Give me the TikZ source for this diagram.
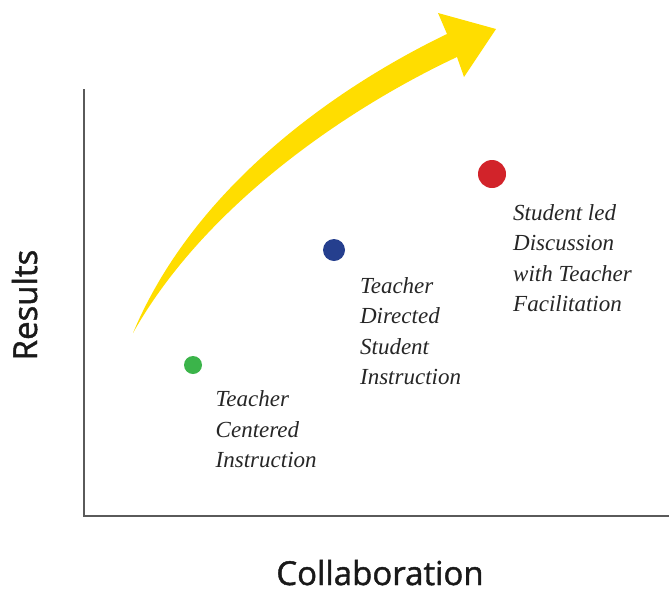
\documentclass[tikz,border=0pt]{standalone}
\usepackage{fontspec}
\setmainfont{Liberation Serif}
\newfontfamily\axisfont[FakeBold=1.3]{Open Sans}
\usepackage{xcolor}
\definecolor{axisgray}{RGB}{90,90,90}
\definecolor{arrowyellow}{RGB}{255,221,0}
\definecolor{dotgreen}{RGB}{59,180,74}
\definecolor{dotblue}{RGB}{37,63,142}
\definecolor{dotred}{RGB}{210,35,42}
\usetikzlibrary{positioning}
\usepackage{tikz}

\begin{document}
\begin{tikzpicture}[x=1pt,y=-1pt,
      dot style/.style={circle,inner sep=0pt,draw=none},
      label style/.style={inner sep=0pt,align=left,text=black!85,
        font=\fontsize{23}{30.5}\selectfont\itshape},
      axis label/.style={inner sep=0pt,font=\axisfont\fontsize{33}{36}\selectfont,text=black!90}
      ]
      \useasboundingbox (0,0) rectangle (669,590);

      % axes
      \coordinate (ytop) at (84,89);
      \coordinate (origin) at (84,516);
      \coordinate (xend) at (669,516);
      \draw[axisgray,line width=2pt] (ytop) -- (origin) -- (xend);

      % growth arrow
      \fill[arrowyellow] (133,333)
        .. controls (195,185) and (339,86) .. (447,34)
        -- (438,13) -- (496,29) -- (464,77) -- (457,57)
        .. controls (348,108) and (205,205) .. (133,333) -- cycle;

      % points
      \node[dot style,fill=dotgreen,minimum size=18pt] (tci) at (193,365) {};
      \node[dot style,fill=dotblue,minimum size=22pt] (tdsi) at (334,250) {};
      \node[dot style,fill=dotred,minimum size=28pt] (sld) at (492,174) {};

      \node[label style, below right=19pt and 16pt of tci] (tcilabel) {Teacher \\ Centered \\ Instruction};
      \node[label style, below right=19pt and 18pt of tdsi] (tdsilabel) {Teacher \\ Directed \\ Student \\ Instruction};
      \node[label style, below right=20pt and 11pt of sld] (sldlabel) {Student led \\ Discussion \\ with Teacher \\ Facilitation};

      % axis titles
      \node[axis label,rotate=90,anchor=base] (results) at (37,305) {Results};
      \node[axis label,anchor=base] (collab) at (380,585) {Collaboration};
    \end{tikzpicture}
\end{document}
